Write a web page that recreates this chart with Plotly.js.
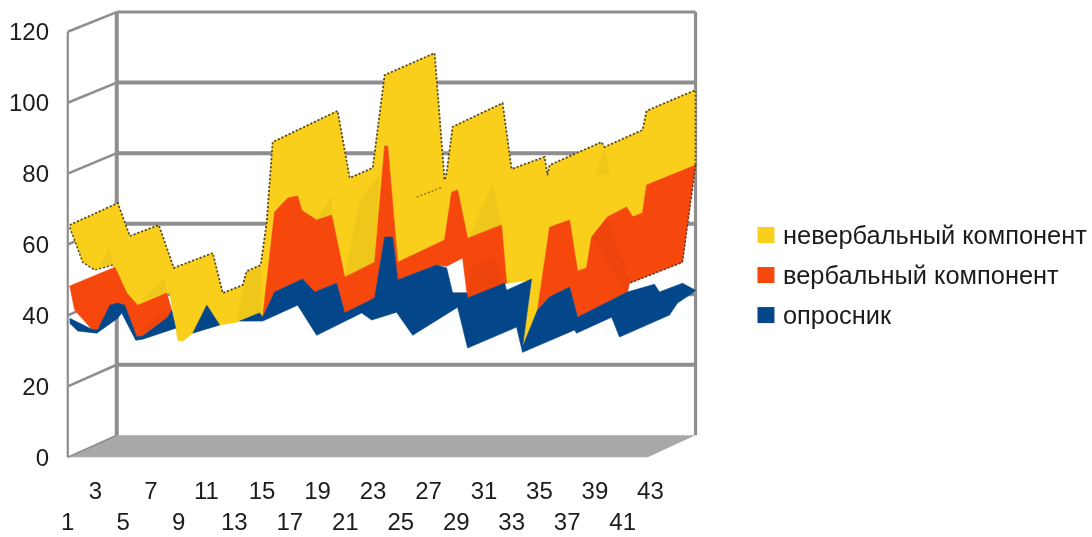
<!DOCTYPE html>
<html><head><meta charset="utf-8">
<script src="https://cdn.plot.ly/plotly-3.0.1.min.js"></script>
<style>html,body{margin:0;padding:0;background:#fff}#c{width:1092px;height:537px;filter:blur(0.45px)}</style>
</head><body><div id="c"></div>
<script>
// Value scale ticks and category labels
const yTicks = [0,20,40,60,80,100,120];
const xTicks = [1,3,5,7,9,11,13,15,17,19,21,23,25,27,29,31,33,35,37,39,41,43];
const seriesNames = ['невербальный компонент','вербальный компонент','опросник'];

// невербальный компонент: upper silhouette
const yellowTopX = [1.14,4.60,5.47,7.56,8.64,11.45,12.17,13.61,13.90,14.91,15.34,15.77,20.45,21.32,22.98,23.84,27.44,28.16,28.31,28.74,32.34,32.99,35.37,35.58,35.73,39.47,39.69,42.43,42.72,46.25];
const yellowTopY = [65.5,71.7,62.4,65.5,53.4,57.6,46.3,48.6,52.5,54.2,66.3,88.9,97.7,78.8,81.6,107.8,114.0,78.2,80.2,93.2,99.9,81.3,84.7,79.6,82.4,88.9,87.5,92.3,97.7,103.6];
// невербальный компонент: lower boundary, right to left
const yellowLowX = [46.25,42.72,42.43,41.71,41.28,39.91,38.75,38.39,37.75,37.17,35.73,34.86,33.78,34.43,32.63,32.27,29.82,29.10,28.67,28.16,24.78,24.06,23.84,23.12,20.96,20.02,18.94,17.86,17.57,16.85,15.91,15.05,14.83,13.18,11.95,11.02,10.01,9.29,8.93,8.35,6.04,5.25,4.60,4.24,2.95,2.08,1.14];
const yellowLowY = [82.4,76.8,68.9,67.8,70.6,67.8,62.1,53.4,52.5,66.9,64.9,41.5,31.1,50.0,49.1,65.5,61.8,75.4,74.8,61.3,55.0,87.8,87.8,55.0,50.8,68.3,66.9,69.7,73.7,73.1,69.2,39.5,40.7,38.1,37.3,42.9,35.0,32.7,33.0,46.3,42.9,46.3,51.9,54.2,52.8,55.0,64.9];

// вербальный компонент: three visible pieces
const orangeX = [1.14,4.39,4.60,5.25,6.04,8.13,8.49,8.21,6.40,5.97,5.11,4.60,4.03,3.16,2.73,1.50,1.14,null,
  15.05,15.91,16.85,17.57,17.86,18.94,20.02,20.96,23.12,23.84,24.06,24.78,28.16,28.67,29.10,29.82,32.27,32.63,29.82,29.46,28.31,27.59,24.78,24.42,23.84,23.12,20.96,20.38,18.80,17.93,15.91,15.05,null,
  34.86,35.73,37.17,37.75,38.39,38.75,39.91,41.28,41.71,42.43,42.72,46.25,45.31,41.49,41.35,37.75,37.17,35.73,34.86];
const orangeY = [48.3,53.6,51.9,46.3,42.9,46.3,41.5,39.5,34.2,33.9,42.9,43.5,42.9,35.9,36.1,41.5,48.3,null,
  39.5,69.2,73.1,73.7,69.7,66.9,68.3,50.8,55.0,87.8,87.8,55.0,61.3,74.8,75.4,61.8,65.5,49.1,44.9,56.2,53.9,54.2,50.0,62.1,62.1,44.9,40.7,49.1,46.6,50.3,46.6,39.5,null,
  41.5,64.9,66.9,52.5,53.4,62.1,67.8,70.6,67.8,68.9,76.8,82.4,55.0,49.1,46.6,39.5,48.0,45.2,41.5];

// опросник: visible pieces
const blueX = [1.14,2.73,3.16,4.03,4.60,5.11,5.97,6.40,8.21,8.49,8.78,6.40,5.90,4.89,4.60,3.09,1.72,1.14,null,
  10.01,11.02,11.95,10.01,null,
  13.39,14.83,15.05,15.91,17.93,18.80,20.38,20.96,23.12,23.84,24.42,24.78,27.59,28.31,28.74,29.75,29.82,32.49,32.63,34.43,33.78,33.78,33.35,29.82,29.10,25.86,24.70,22.91,22.18,18.94,17.57,15.05,13.39,null,
  33.78,34.86,35.73,37.17,37.75,41.35,43.29,43.65,45.31,46.25,46.03,44.95,44.37,40.77,40.20,37.67,37.53,33.78];
const blueY = [39.2,36.1,35.9,42.9,43.5,42.9,33.9,34.2,39.5,41.5,36.4,33.3,33.0,40.7,39.2,35.0,35.6,37.8,null,
  35.0,42.9,37.3,35.0,null,
  38.4,40.7,39.5,46.6,50.3,46.6,49.1,40.7,44.9,62.1,62.1,50.0,54.2,53.4,46.3,46.3,44.9,49.1,47.1,50.3,31.1,29.6,36.7,30.8,42.3,34.4,40.9,38.7,40.7,34.4,42.9,38.4,38.4,null,
  31.1,41.5,45.2,48.0,39.5,46.6,48.8,46.6,49.1,47.1,46.3,43.5,40.1,33.9,39.5,35.0,35.9,29.6];

// darker facets on the surfaces
const yellowFacetX = [3.31,4.03,4.24,null,6.33,7.99,8.13,null,13.18,13.90,14.91,14.91,null,18.94,20.02,20.02,null,22.04,23.48,23.12,20.96,null,29.96,31.62,32.27,null,38.97,39.69,40.05];
const yellowFacetY = [54.2,59.3,54.2,null,44.3,50.8,46.3,null,38.7,52.2,54.2,40.7,null,66.9,74.0,68.3,null,72.5,79.6,55.0,50.8,null,62.1,77.4,65.5,null,79.0,87.2,80.2];
const orangeFacetX = [38.75,39.91,41.49,41.28,null,29.96,31.62,32.49,29.96,null,6.04,7.99,8.21];
const orangeFacetY = [62.1,67.8,50.0,46.3,null,53.6,56.5,49.1,45.2,null,34.4,41.5,39.5];
const creaseX = [26.15,28.02];
const creaseY = [73.4,76.2];

const C = {yellow:'#f9cf1c', orange:'#f6470d', blue:'#04468a', wall:'#8e8e8e', floor:'#a8a8a8', text:'#1c1c1c'};
const DEPTH_X = 3.53, X_END = 46.25, FLOOR_END = 42.8;
const back = v => 6.2 + v*0.9947;
const wallShape = (x0,y0,x1,y1,w,c) => ({type:'line',layer:'below',xref:'x',yref:'y',x0,y0,x1,y1,line:{color:c||C.wall,width:w}});

const shapes = [
  {type:'path',layer:'below',xref:'x',yref:'y',path:`M 1 0 L ${1+DEPTH_X} ${back(0)} L ${X_END} ${back(0)} L ${FLOOR_END} 0 Z`,fillcolor:C.floor,line:{width:0}},
  wallShape(1,0,1,120,2.2),
  wallShape(1+DEPTH_X,back(0),1+DEPTH_X,back(120),4),
  wallShape(X_END,back(0),X_END,back(120),3.2)
];
yTicks.forEach(v => {
  if (v>0) {
    shapes.push(wallShape(1+DEPTH_X,back(v),X_END,back(v),v===120?3:4));
    shapes.push(wallShape(1,v,1+DEPTH_X,back(v),2.6));
  } else {
    shapes.push(wallShape(1,0,1+DEPTH_X,back(0),1.6));
  }
});

const poly = (x,y,color,name) => ({x,y,name,type:'scatter',mode:'lines',fill:'toself',fillcolor:color,line:{color,width:0.6},hoverinfo:'skip',showlegend:false});
const facet = (x,y,color,name) => ({x,y,name,type:'scatter',mode:'none',fill:'toself',fillcolor:color,hoverinfo:'skip',showlegend:false});
const outline = (x,y,color,width) => ({x,y,type:'scatter',mode:'lines',line:{color,width,dash:'2px,2px'},hoverinfo:'skip',showlegend:false});

const yellowX = yellowTopX.concat(yellowLowX), yellowY = yellowTopY.concat(yellowLowY);
const data = [
  poly(yellowX,yellowY,C.yellow,seriesNames[0]),
  facet(yellowFacetX,yellowFacetY,'rgba(165,125,20,0.11)','facet'),
  poly(orangeX,orangeY,C.orange,seriesNames[1]),
  facet(orangeFacetX,orangeFacetY,'rgba(150,30,0,0.07)','facet'),
  poly(blueX,blueY,C.blue,seriesNames[2]),
  outline(yellowTopX.concat([yellowLowX[0]]),yellowTopY.concat([yellowLowY[0]]),'#4a4636',1.8),
  outline(yellowLowX.slice(-4),yellowLowY.slice(-4),'#4a4636',1.5),
  outline([46.25,45.31,41.49],[82.4,55.0,49.1],'#4a3a30',1.5),
  outline(creaseX,creaseY,'#8a7414',1.4)
];

const legendRows = [
  {name:seriesNames[0],c:C.yellow,y:235},
  {name:seriesNames[1],c:C.orange,y:275},
  {name:seriesNames[2],c:C.blue,y:315}
];
const M = {l:65.2,r:392.5,t:7.2,b:78.2};
const pw = 1092-M.l-M.r, ph = 537-M.t-M.b;
const px = v => (v-M.l)/pw, py = v => (537-M.b-v)/ph;
const annotations = legendRows.map(r => ({xref:'paper',yref:'paper',x:px(782),y:py(r.y),xanchor:'left',yanchor:'middle',showarrow:false,text:r.name,font:{family:'Liberation Sans',size:25.4,color:C.text}}));
legendRows.forEach(r => shapes.push({type:'rect',xref:'paper',yref:'paper',x0:px(758),x1:px(775),y0:py(r.y-8),y1:py(r.y+8),fillcolor:r.c,line:{width:0}}));

const font = {family:'Liberation Sans',size:24,color:C.text};
Plotly.newPlot('c',data,{
  width:1092,height:537,margin:M,paper_bgcolor:'#fff',plot_bgcolor:'#fff',showlegend:false,
  font,shapes,annotations,
  xaxis:{range:[0.8,46.5],showgrid:false,zeroline:false,showline:false,ticks:'',tickmode:'array',tickangle:0,
    tickvals:xTicks,ticktext:xTicks.map((t,i)=>i%2?String(t):'<br>'+t),ticklabelstandoff:15,tickfont:font},
  yaxis:{range:[-0.5,127],showgrid:false,zeroline:false,showline:false,ticks:'',tickmode:'array',
    tickvals:yTicks,ticktext:yTicks.map(String),ticklabelstandoff:15,tickfont:font}
},{displayModeBar:false,staticPlot:true});
</script></body></html>
